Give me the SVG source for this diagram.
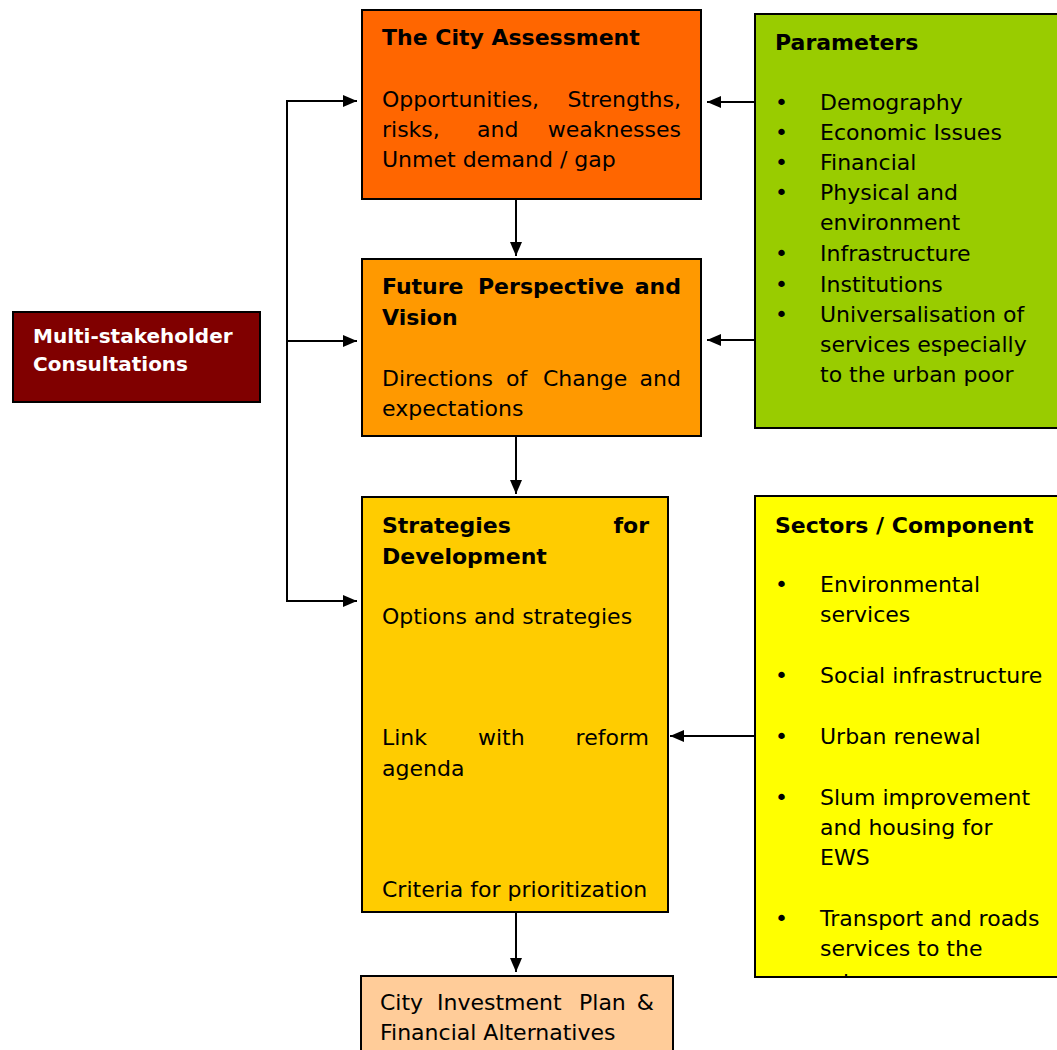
<svg xmlns="http://www.w3.org/2000/svg" width="1057" height="1050" viewBox="0 0 1057 1050">
  <style>
    .box { stroke: #000; stroke-width: 2; }
    .t { font-family: "DejaVu Sans", "Liberation Sans", sans-serif; font-size: 22px; fill: #000; }
    .b { font-weight: bold; }
    .e { text-anchor: end; }
    .w { fill: #fff; font-size: 20px; }
    .line { stroke: #000; stroke-width: 2; fill: none; }
  </style>
  <defs>
    <marker id="arrow" viewBox="0 0 14 12" refX="14" refY="6" markerWidth="14" markerHeight="12" markerUnits="userSpaceOnUse" orient="auto">
      <path d="M0,0 L14,6 L0,12 Z" fill="#000"/>
    </marker>
    <clipPath id="sectorsClip">
      <rect x="755" y="496" width="310" height="481"/>
    </clipPath>
  </defs>

  <rect width="1057" height="1050" fill="#fff"/>

  <!-- connectors -->
  <g id="connectors">
    <polyline class="line" points="287,101 287,601 357,601" marker-end="url(#arrow)"/>
    <line class="line" x1="286" y1="101" x2="357" y2="101" marker-end="url(#arrow)"/>
    <line class="line" x1="287" y1="341" x2="357" y2="341" marker-end="url(#arrow)"/>
    <line class="line" x1="755" y1="102" x2="707" y2="102" marker-end="url(#arrow)"/>
    <line class="line" x1="755" y1="340" x2="707" y2="340" marker-end="url(#arrow)"/>
    <line class="line" x1="755" y1="736" x2="670" y2="736" marker-end="url(#arrow)"/>
    <line class="line" x1="516" y1="199" x2="516" y2="256" marker-end="url(#arrow)"/>
    <line class="line" x1="516" y1="436" x2="516" y2="494" marker-end="url(#arrow)"/>
    <line class="line" x1="516" y1="912" x2="516" y2="972" marker-end="url(#arrow)"/>
  </g>

  <!-- The City Assessment -->
  <g id="city-assessment">
    <rect class="box" x="362" y="10" width="339" height="189" fill="#FF6600"/>
    <text class="t b" x="382" y="45">The City Assessment</text>
    <text class="t" x="382" y="107">Opportunities,</text>
    <text class="t e" x="681" y="107">Strengths,</text>
    <text class="t" x="382" y="137">risks,</text>
    <text class="t" x="477" y="137">and</text>
    <text class="t e" x="681" y="137">weaknesses</text>
    <text class="t" x="382" y="167">Unmet demand / gap</text>
  </g>

  <!-- Parameters -->
  <g id="parameters">
    <rect class="box" x="755" y="14" width="310" height="414" fill="#99CC00"/>
    <text class="t b" x="775" y="50">Parameters</text>
    <g class="t">
      <text x="775" y="110">•</text><text x="820" y="110">Demography</text>
      <text x="775" y="140">•</text><text x="820" y="140">Economic Issues</text>
      <text x="775" y="170">•</text><text x="820" y="170">Financial</text>
      <text x="775" y="200">•</text><text x="820" y="200">Physical and</text>
      <text x="820" y="230">environment</text>
      <text x="775" y="261">•</text><text x="820" y="261">Infrastructure</text>
      <text x="775" y="292">•</text><text x="820" y="292">Institutions</text>
      <text x="775" y="322">•</text><text x="820" y="322">Universalisation of</text>
      <text x="820" y="352">services especially</text>
      <text x="820" y="382">to the urban poor</text>
    </g>
  </g>

  <!-- Multi-stakeholder Consultations -->
  <g id="consultations">
    <rect class="box" x="13" y="312" width="247" height="90" fill="#800000"/>
    <text class="t b w" x="33" y="343">Multi-stakeholder</text>
    <text class="t b w" x="33" y="371">Consultations</text>
  </g>

  <!-- Future Perspective and Vision -->
  <g id="future-perspective">
    <rect class="box" x="362" y="259" width="339" height="177" fill="#FF9900"/>
    <text class="t b" x="382" y="294">Future</text>
    <text class="t b" x="478" y="294">Perspective</text>
    <text class="t b e" x="681" y="294">and</text>
    <text class="t b" x="382" y="325">Vision</text>
    <text class="t" x="382" y="386">Directions</text>
    <text class="t" x="506" y="386">of</text>
    <text class="t" x="543" y="386">Change</text>
    <text class="t e" x="681" y="386">and</text>
    <text class="t" x="382" y="416">expectations</text>
  </g>

  <!-- Strategies for Development -->
  <g id="strategies">
    <rect class="box" x="362" y="497" width="306" height="415" fill="#FFCC00"/>
    <text class="t b" x="382" y="533">Strategies</text>
    <text class="t b e" x="649" y="533">for</text>
    <text class="t b" x="382" y="564">Development</text>
    <text class="t" x="382" y="624">Options and strategies</text>
    <text class="t" x="382" y="745">Link</text>
    <text class="t" x="478" y="745">with</text>
    <text class="t e" x="649" y="745">reform</text>
    <text class="t" x="382" y="776">agenda</text>
    <text class="t" x="382" y="897">Criteria for prioritization</text>
  </g>

  <!-- Sectors / Component -->
  <g id="sectors">
    <rect class="box" x="755" y="496" width="310" height="481" fill="#FFFF00"/>
    <text class="t b" x="775" y="533">Sectors / Component</text>
    <g class="t" clip-path="url(#sectorsClip)">
      <text x="775" y="592">•</text><text x="820" y="592">Environmental</text>
      <text x="820" y="622">services</text>
      <text x="775" y="683">•</text><text x="820" y="683">Social infrastructure</text>
      <text x="775" y="744">•</text><text x="820" y="744">Urban renewal</text>
      <text x="775" y="805">•</text><text x="820" y="805">Slum improvement</text>
      <text x="820" y="835">and housing for</text>
      <text x="820" y="865">EWS</text>
      <text x="775" y="926">•</text><text x="820" y="926">Transport and roads</text>
      <text x="820" y="956">services to the</text>
      <text x="820" y="990">urban poor</text>
    </g>
  </g>

  <!-- City Investment Plan -->
  <g id="investment-plan">
    <rect class="box" x="361" y="976" width="312" height="90" fill="#FFCC99"/>
    <text class="t" x="380" y="1010">City</text>
    <text class="t" x="437" y="1010">Investment</text>
    <text class="t" x="579" y="1010">Plan</text>
    <text class="t e" x="654" y="1010">&amp;</text>
    <text class="t" x="380" y="1040">Financial Alternatives</text>
  </g>
</svg>
